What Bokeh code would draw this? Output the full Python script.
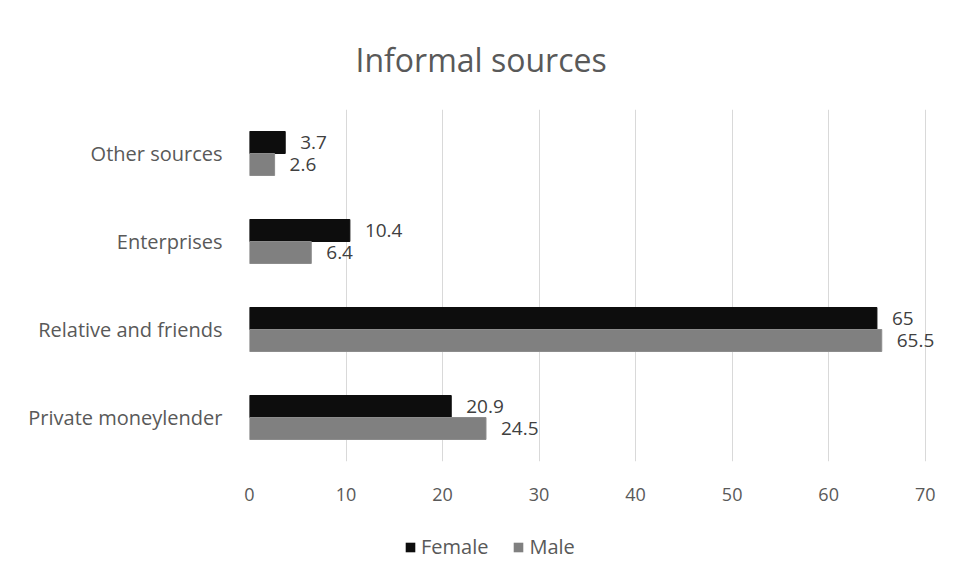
from bokeh.plotting import figure
from bokeh.models import ColumnDataSource, FactorRange, Range1d, FixedTicker, LabelSet, Legend, LegendItem
from bokeh.layouts import column
from bokeh.transform import dodge
from bokeh.core.properties import value
from bokeh.embed import file_html
from bokeh.resources import INLINE

categories = ["Private moneylender", "Relative and friends", "Enterprises", "Other sources"]
female = [20.9, 65.0, 10.4, 3.7]
male = [24.5, 65.5, 6.4, 2.6]
female_labels = ["20.9", "65", "10.4", "3.7"]
male_labels = ["24.5", "65.5", "6.4", "2.6"]
x_ticks = [0, 10, 20, 30, 40, 50, 60, 70]
series_names = ["Female", "Male"]
series_colors = ["#0d0d0d", "#808080"]

FONT = "Open Sans"
TXT = "#595959"

src = ColumnDataSource(dict(cat=categories, female=female, male=male,
                            fl=female_labels, ml=male_labels))

p = figure(width=946, height=510, y_range=FactorRange(factors=categories),
           x_range=Range1d(0, 72), output_backend="svg", toolbar_location=None,
           title="Informal sources", min_border_left=249, min_border_right=2,
           min_border_top=109, min_border_bottom=49)

p.title.text_font = FONT
p.title.text_font_size = "32px"
p.title.text_font_style = "normal"
p.title.text_color = TXT
p.title.align = "left"
p.title.offset = 106
p.title.standoff = 58

rf = p.hbar(y=dodge("cat", 0.125, range=p.y_range), right="female", left=0, height=0.25,
            source=src, fill_color=series_colors[0], line_color=series_colors[0])
rm = p.hbar(y=dodge("cat", -0.125, range=p.y_range), right="male", left=0, height=0.25,
            source=src, fill_color=series_colors[1], line_color="#8c8c8c")

lf = LabelSet(x="female", y=dodge("cat", 0.125, range=p.y_range), text="fl", source=src,
              x_offset=15, text_baseline="middle", text_font=value(FONT),
              text_font_size="19px", text_color="#404040")
lm = LabelSet(x="male", y=dodge("cat", -0.125, range=p.y_range), text="ml", source=src,
              x_offset=15, text_baseline="middle", text_font=value(FONT),
              text_font_size="19px", text_color="#404040")
p.add_layout(lf)
p.add_layout(lm)

p.xaxis.ticker = FixedTicker(ticks=x_ticks)
p.xaxis.axis_line_color = None
p.xaxis.major_tick_line_color = None
p.xaxis.minor_tick_line_color = None
p.xaxis.major_label_standoff = 20
p.xaxis.major_label_text_font = FONT
p.xaxis.major_label_text_font_size = "18px"
p.xaxis.major_label_text_color = TXT

p.yaxis.axis_line_color = None
p.yaxis.major_tick_line_color = None
p.yaxis.minor_tick_line_color = None
p.yaxis.major_label_standoff = 21
p.yaxis.major_label_text_font = FONT
p.yaxis.major_label_text_font_size = "20px"
p.yaxis.major_label_text_color = TXT

p.ygrid.grid_line_color = None
p.xgrid.grid_line_color = "#d9d9d9"
p.xgrid.ticker = FixedTicker(ticks=x_ticks)
p.outline_line_color = None

# legend strip below the chart (hidden proxy bars only feed the legend swatches)
lg = figure(width=946, height=60, output_backend="svg", toolbar_location=None,
            min_border=0, x_range=Range1d(0, 72), y_range=FactorRange(factors=categories))
lg.axis.visible = False
lg.grid.visible = False
lg.outline_line_color = None
g1 = lg.hbar(y="cat", right="female", left=0, height=0.25, source=src,
             fill_color=series_colors[0], line_color=None, visible=False)
g2 = lg.hbar(y="cat", right="male", left=0, height=0.25, source=src,
             fill_color=series_colors[1], line_color=None, visible=False)
legend = Legend(items=[LegendItem(label=series_names[0], renderers=[g1]),
                       LegendItem(label=series_names[1], renderers=[g2])],
                orientation="horizontal", location=(155, 10),
                label_text_font=FONT, label_text_font_size="20px", label_text_color=TXT,
                glyph_width=12, glyph_height=12, spacing=24, label_standoff=5,
                inactive_fill_alpha=0,
                border_line_color=None, background_fill_alpha=0, padding=0, margin=0)
lg.add_layout(legend, "center")

layout = column(p, lg, spacing=0)
open("out.html", "w").write(file_html(layout, INLINE))
